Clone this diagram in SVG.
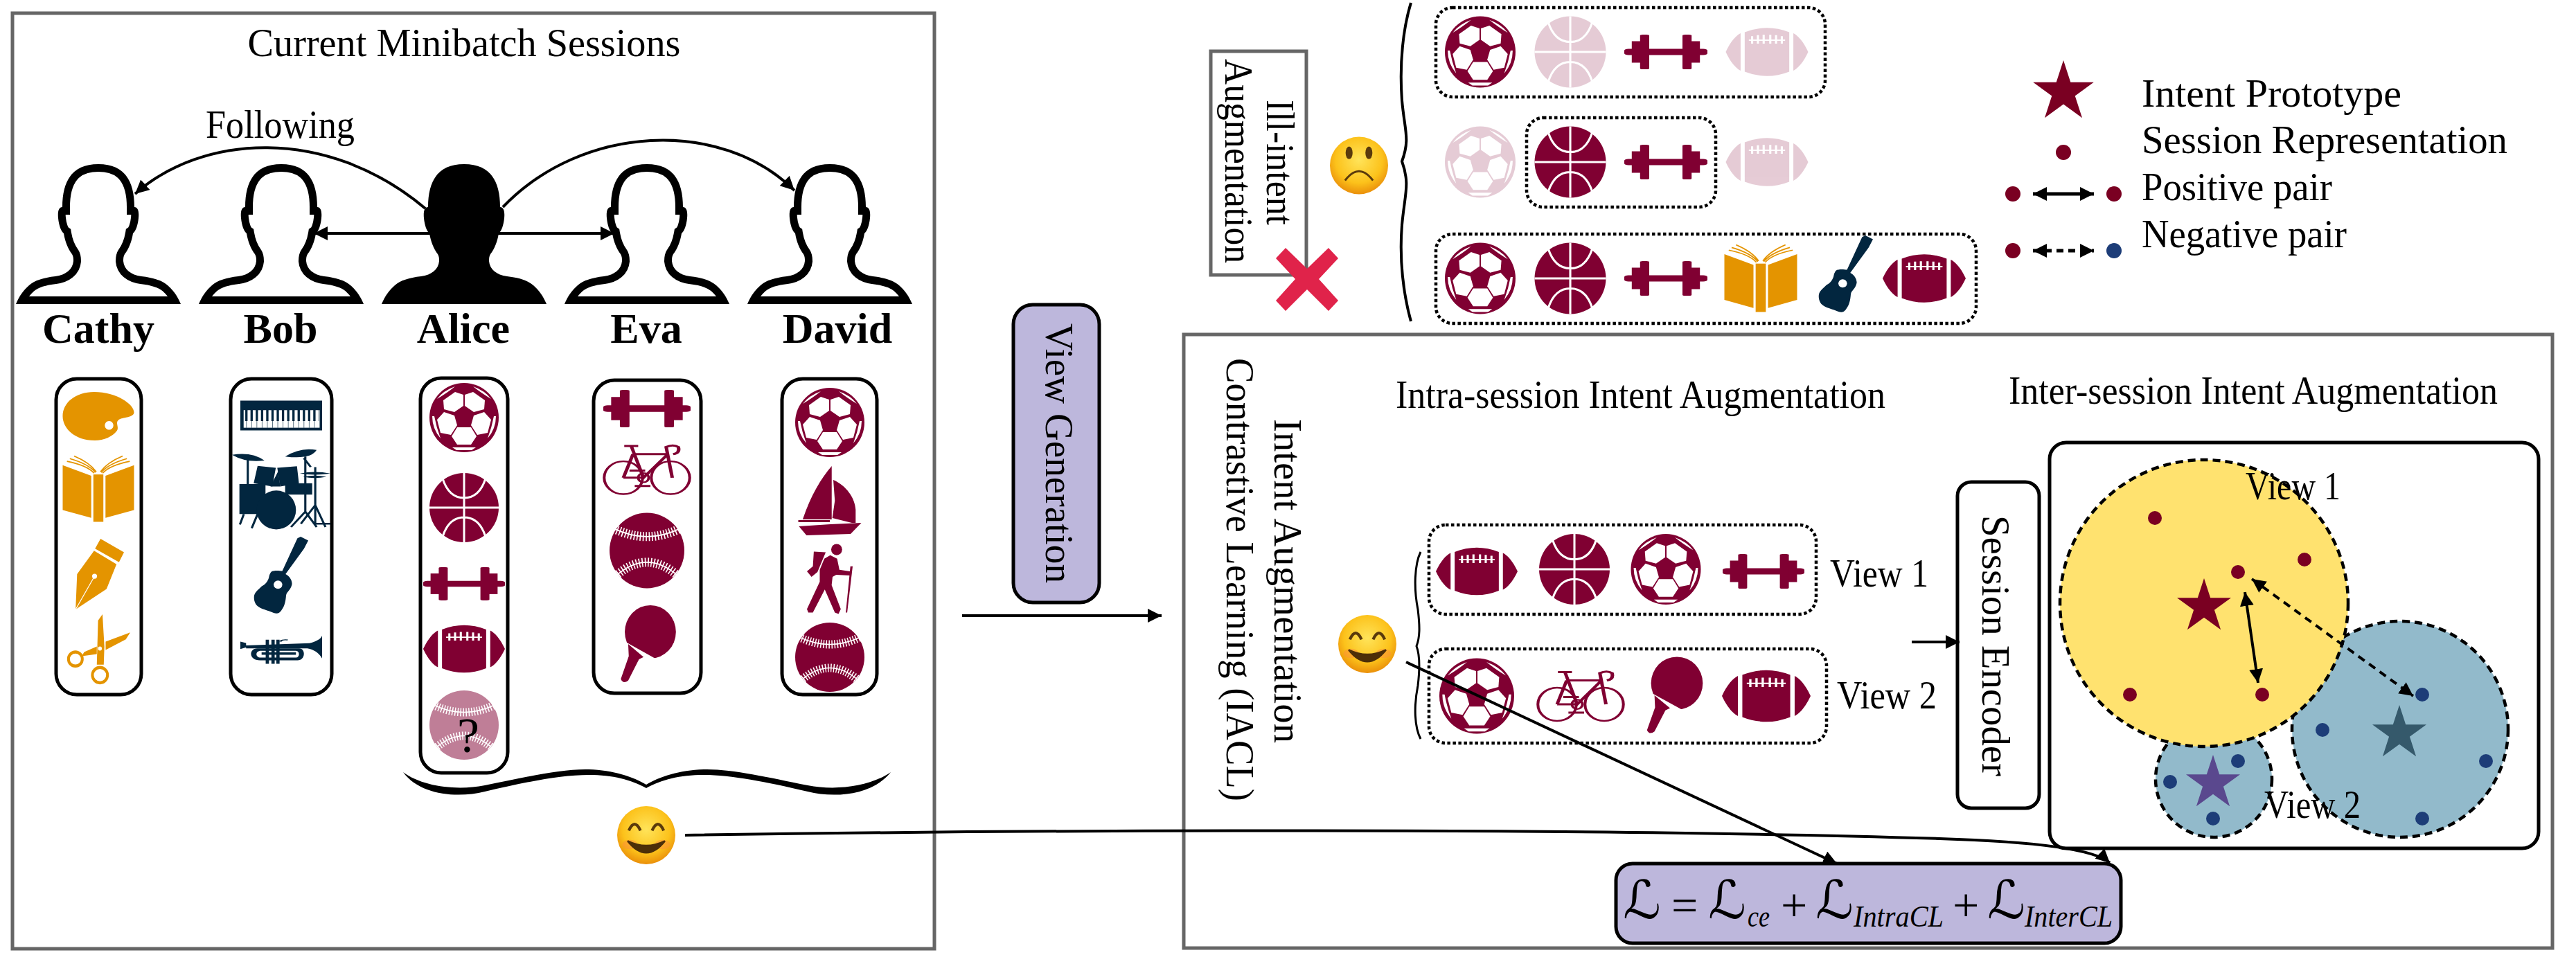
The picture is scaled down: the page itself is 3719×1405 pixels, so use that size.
<svg xmlns="http://www.w3.org/2000/svg" width="3719" height="1405" viewBox="0 0 3719 1405">
<style>
text{font-family:"Liberation Serif","Times New Roman",serif;font-size:56px;fill:#000}
.name{font-weight:bold;font-size:62px;text-anchor:middle}
.sub{font-size:44px;font-style:italic}
.scr{font-family:"DejaVu Sans",sans-serif;font-size:76px}
.op{font-size:68px}
.frame{fill:none;stroke:#666;stroke-width:5}
.col{fill:#fff;stroke:#000;stroke-width:5}
.dot{fill:none;stroke:#000;stroke-width:4.5;stroke-dasharray:4.5 3.5}
.lav{fill:#bdb7dc;stroke:#000;stroke-width:5}
.clu{stroke:#000;stroke-width:4.5;stroke-dasharray:11 7}
.m{fill:#800032}.o{fill:#e49400}.n{fill:#02263f}
.ln{fill:none;stroke:#000;stroke-width:4}
.r{fill:#7a0022}.b{fill:#1d3d78}
.ghost{opacity:.2}
</style>
<defs>
<marker id="ah" markerUnits="userSpaceOnUse" markerWidth="22" markerHeight="22" refX="20" refY="10" orient="auto-start-reverse"><path d="M0,0L20,10L0,20z"/></marker>
<radialGradient id="gold" cx=".5" cy=".4" r=".62"><stop offset="0" stop-color="#ffe45a"/><stop offset=".65" stop-color="#fcc21b"/><stop offset="1" stop-color="#e88a08"/></radialGradient>
<path id="head" d="M0,0C36,0 52,22 52,62C57,62 59,68 58,78C57,88 54,97 50,100C48,112 44,122 38,130C36,133 36,137 36,140C37,152 47,160 62,162C80,164 92,168 100,175C108,182 114,190 119,202L-119,202C-114,190 -108,182 -100,175C-92,168 -80,164 -62,162C-47,160 -37,152 -36,140C-36,137 -36,133 -38,130C-44,122 -48,112 -50,100C-54,97 -57,88 -58,78C-59,68 -57,62 -52,62C-52,22 -36,0 0,0z"/>
<clipPath id="hc"><use href="#head"/></clipPath>
<g id="person"><use href="#head" fill="#fff" stroke="#000" stroke-width="22" clip-path="url(#hc)"/></g>
<g id="soccer"><circle r="50" class="m"/><g fill="#fff"><path d="M-30,-25L-13,-37L-1,-33V-17L-14,-8L-29,-12z"/><path d="M30,-25L13,-37L1,-33V-17L14,-8L29,-12z"/><path d="M-29,-8L-14,-3L-10,11L-19,25L-34,22L-39,3z"/><path d="M29,-8L14,-3L10,11L19,25L34,22L39,3z"/><path d="M-10,14H10L18,27L10,39H-10L-18,27z"/><path d="M-39,-27Q-30,-39 -13,-45Q-24,-36 -39,-27z"/><path d="M39,-27Q30,-39 13,-45Q24,-36 39,-27z"/><path d="M-46,-2Q-46,16 -34,30Q-40,14 -43,-2z"/><path d="M46,-2Q46,16 34,30Q40,14 43,-2z"/><path d="M-17,43H17L11,47H-11z"/></g></g>
<g id="basket"><circle r="50" class="m"/><path d="M0,-50V50M-50,0H50M-31,-42Q-22,-14 0,-14Q22,-14 31,-42M-31,42Q-22,14 0,14Q22,14 31,42" stroke="#fff" stroke-width="3" fill="none"/></g>
<g id="bell" class="m"><rect x="-50" y="-9" width="100" height="18" rx="5"/><rect x="-41" y="-31" width="11" height="62"/><rect x="-31" y="-50" width="11" height="100" rx="3"/><rect x="30" y="-31" width="11" height="62"/><rect x="20" y="-50" width="11" height="100" rx="3"/></g>
<g id="football"><path class="m" d="M-50,0C-44,-22 -37,-34 -32,-38L-32,38C-37,34 -44,22 -50,0zM50,0C44,-22 37,-34 32,-38L32,38C37,34 44,22 50,0zM-27,-40Q0,-58 27,-40V40Q0,58 -27,40z"/><path d="M-22,-24H22M-18,-32V-17M-11,-34V-17M-4,-35V-17M4,-35V-17M11,-34V-17M18,-32V-17" stroke="#fff" stroke-width="2.6" fill="none"/></g>
<g id="baseball"><circle r="50" class="m"/><path d="M-44,-29Q0,-8 44,-29M-42,34Q0,-3 42,34" stroke="#fff" stroke-width="1.6" fill="none"/><path d="M-44,-29Q0,-8 44,-29M-42,34Q0,-3 42,34" stroke="#fff" stroke-width="12" stroke-dasharray="1.5 2.5" fill="none"/></g>
<g id="bike" fill="none" stroke="#800032" stroke-width="3.2"><ellipse cx="-27" cy="16" rx="22" ry="32"/><ellipse cx="27" cy="16" rx="22" ry="32"/><path stroke-width="4" d="M-16,-30H24M-18,-46L-4,16L24,-30M-27,16L-16,-30M-4,16H-27M29,16L22,-44Q30,-50 36,-44Q38,-32 30,-30M-26,-46H-10M-14,32H4M-20,2H-2"/><ellipse cx="-4" cy="16" rx="6" ry="9" stroke-width="3"/></g>
<g id="paddle"><ellipse cx="6" cy="-16" rx="45" ry="35" class="m"/><path d="M-50,-8L22,22L-50,60z" fill="#fff"/><path class="m" d="M-33,0L-6,17L-14,20L-33,48Q-42,53 -46,46L-32,16z"/></g>
<g id="palette" class="o"><path fill-rule="evenodd" d="M-6,-50C26,-50 50,-24 50,-8C50,2 36,2 30,6C22,12 30,22 26,30C20,42 8,50 -5,50C-34,50 -50,24 -50,0C-50,-28 -32,-50 -6,-50zM15,10a6,9 0 1 0 .1,0z"/></g>
<g id="book" class="o"><path d="M-50,-36L-10,-20V44L-50,32zM50,-36L10,-20V44L50,32z"/><rect x="-7" y="-22" width="14" height="72"/><path d="M-44,-42Q-16,-36 -6,-24M-40,-46Q-14,-38 -4,-25M-34,-50Q-12,-40 -3,-26M44,-42Q16,-36 6,-24M40,-46Q14,-38 4,-25M34,-50Q12,-40 3,-26" stroke="#e49400" stroke-width="1.8" fill="none"/></g>
<g id="pen"><path class="o" d="M3,-50L50,-31L40,-17L-8,-36zM-10,-33L35,-14L15,21L-47,50L-44,0z"/><path d="M-47,50L-9,3" stroke="#fff" stroke-width="1.4"/><ellipse cx="-9" cy="3" rx="5" ry="3.6" fill="#fff"/></g>
<g id="scissors"><path class="o" d="M6,-50L9,-4L8,22L-3,22L-1,-41zM50,-24L43,-14L11,1L11,-11zM-3,-4L-23,4L-27,10L-3,7z"/><g fill="none" stroke="#e49400" stroke-width="4.4"><ellipse cx="-37" cy="14" rx="11" ry="10"/><ellipse cx="2" cy="37" rx="12" ry="11"/></g><ellipse cx="2" cy="-1" rx="3" ry="3" fill="#fff"/></g>
<g id="keys" class="n"><rect x="-50" y="-50" width="100" height="100"/><rect x="-46" y="-18" width="93" height="59" fill="#fff"/><path d="M-44,0H46" stroke="#02263f" stroke-width="37" stroke-dasharray="2.8 3.6"/><path d="M-43,29H46" stroke="#02263f" stroke-width="24" stroke-opacity=".65" stroke-dasharray=".8 5.6"/></g>
<g id="drums" class="n"><path d="M-50,-42Q-30,-46 -17,-35Q-36,-32 -50,-42zM4,-40Q20,-52 36,-48Q30,-36 4,-40zM19,-19Q34,-23 50,-19Q34,-16 19,-19zM22,-15Q34,-18 46,-15Q34,-12 22,-15z"/><path d="M-24,-28.5L-5.500,-26L-9,-3L-28,-7zM-4,-26L16,-28L18,-7L-1,-3z"/><rect x="-42.500" y="-6" width="26.500" height="37"/><rect x="4" y="-7" width="27.500" height="14"/><path d="M-11,-3L-3,-22L-1,-3z" fill="#02263f"/><ellipse cx="-5" cy="26" rx="20" ry="24"/><g fill="none" stroke="#02263f" stroke-width="2.200"><path d="M-34,-36V-6M24.500,-40V28L10,47M24.500,28L36,47M23,-38L30,-27M34.600,-27V20L20,43M34.600,20L45,47M34.600,20V43L50,43M-38,31L-42,44M-24,31L-30,48.500"/></g></g>
<g id="guitar" class="n"><path d="M30,-48L36,-50L50,-45L42,-34L8,-1C14,1 20,6 20,12C18,20 10,22 9,27C8,36 6,41 1,46C-4,52 -10,51 -14,50C-24,47 -38,45 -44,41C-50,37 -51,31 -50,27C-48,22 -40,18 -36,15C-28,12 -25,8 -23,4C-21,-3 -18,-5 -14,-5C-8,-6 -2,-5 2,-5z"/><ellipse cx="-6" cy="13" rx="8" ry="5.500" fill="#fff"/></g>
<g id="trumpet" class="n"><path d="M-50,-28L-43,-23V-14.500L34.500,-22.600C42,-28 48,-36 50,-49V31C46,12 40,0 32,-4H-43V-8L-50,-2z"/><path fill-rule="evenodd" d="M-29,-4H22C30,-4 30,38 20,38H-26C-40,38 -40,-4 -29,-4zM-25,4C-32,4 -32,28 -25,28H18C23,28 23,4 18,4z"/><path d="M-24,10H18V18H-24z"/><path d="M-17,-35V50M-10,-35V50M-4,-35V50" stroke="#02263f" stroke-width="4"/><path d="M-1,-28Q0,-36 8,-34" stroke="#02263f" stroke-width="3" fill="none"/></g>
<g id="boat" class="m"><path d="M3,-50V27H-43C-30,-8 -14,-32 3,-50zM5.500,-30C26,-22 40,-4 41,13V32L35,32L4,25L8,0z"/><path d="M-50,28H0V31H-50z"/><path d="M-49,37L1,34L50,32L33,48L-37,50z"/></g>
<g id="hiker" class="m"><ellipse cx="15" cy="-42" rx="12" ry="8"/><path d="M-35,-39L-9,-38L-27,-10L-40,-3L-50,-11L-37,-18z"/><path d="M1,-34L16,-29L21,-13L44,-11V-5L14,-6L6,-3L4,9L24,43L19,50L11,48L-11,15L-37,48L-47,48L-50,43L-22,4V-13L-12,-29z"/><path d="M45,-18H50L38,48H35z"/></g>
<g id="smile"><ellipse rx="50" ry="50" fill="url(#gold)"/><ellipse cx="-28" cy="16" rx="13" ry="8" fill="#fb8f3a" opacity=".5"/><ellipse cx="28" cy="16" rx="13" ry="8" fill="#fb8f3a" opacity=".5"/><path d="M-30,-8Q-20,-30 -10,-8M10,-8Q20,-30 30,-8" fill="none" stroke="#5a3a0c" stroke-width="5"/><path d="M-32,10Q0,50 32,10Q0,26 -32,10z" fill="#4d2f08" stroke="#4d2f08" stroke-width="3"/></g>
<g id="sad"><ellipse rx="50" ry="50" fill="url(#gold)"/><ellipse cx="-17" cy="-22" rx="6" ry="11" fill="#5a3a0c"/><ellipse cx="17" cy="-22" rx="6" ry="11" fill="#5a3a0c"/><path d="M-24,26Q0,-6 24,26" fill="none" stroke="#5a3a0c" stroke-width="3.500"/></g>
<polygon id="star" points="0,-50 11.200,-15.500 47.600,-15.500 18.200,5.900 29.400,40.500 0,19.100 -29.400,40.500 -18.200,5.900 -47.600,-15.500 -11.200,-15.500"/>
</defs>
<rect width="3719" height="1405" fill="#fff"/>

<g id="minibatch-frame"><rect class="frame" x="18" y="19" width="1331" height="1351"/><text x="670" y="81" text-anchor="middle" textLength="625" lengthAdjust="spacingAndGlyphs">Current Minibatch Sessions</text><text x="297" y="199" textLength="215" lengthAdjust="spacingAndGlyphs">Following</text></g>

<g id="user-cathy"><use href="#person" x="142" y="237"/><text class="name" x="142" y="495">Cathy</text><rect class="col" x="81" y="547" width="123" height="456" rx="30"/>
<use href="#palette" transform="translate(142,601) scale(1.03,.7)"/><use href="#book" transform="translate(142,706) scale(1.03,.95)"/><use href="#pen" transform="translate(143,829) scale(.72,1.02)"/><use href="#scissors" transform="translate(142.500,937.500) scale(.91,1.01)"/></g>
<g id="user-bob"><use href="#person" x="406" y="237"/><text class="name" x="405" y="495">Bob</text><rect class="col" x="333" y="547" width="146" height="456" rx="30"/>
<use href="#keys" transform="translate(406,600) scale(1.18,.43)"/><use href="#drums" transform="translate(406,706) scale(1.42,1.17)"/><use href="#guitar" transform="translate(406,830) scale(.78,1.1)"/><use href="#trumpet" transform="translate(406,938) scale(1.18,.41)"/></g>
<g id="user-alice"><use href="#head" x="670" y="237"/><text class="name" x="669" y="495">Alice</text><rect class="col" x="607" y="546" width="126" height="570" rx="30"/>
<use href="#soccer" transform="translate(670,603)"/><use href="#basket" transform="translate(670,733)"/><use href="#bell" transform="translate(670,843) scale(1.18,.48)"/><use href="#football" transform="translate(670,937) scale(1.18,.7)"/><use href="#baseball" transform="translate(670,1047)" opacity=".5"/><text x="676" y="1086" text-anchor="middle" style="font-size:72px">?</text></g>
<g id="user-eva"><use href="#person" x="934" y="237"/><text class="name" x="933" y="495">Eva</text><rect class="col" x="857" y="549" width="155" height="452" rx="30"/>
<use href="#bell" transform="translate(934,590) scale(1.26,.54)"/><use href="#bike" transform="translate(934,678) scale(1.26,.74)"/><use href="#baseball" transform="translate(934,795) scale(1.08,1.09)"/><use href="#paddle" transform="translate(934,930) scale(.82,1.1)"/></g>
<g id="user-david"><use href="#person" x="1198" y="237"/><text class="name" x="1209" y="495">David</text><rect class="col" x="1129" y="547" width="137" height="456" rx="30"/>
<use href="#soccer" transform="translate(1198,610)"/><use href="#boat" transform="translate(1198,723) scale(.91,1)"/><use href="#hiker" transform="translate(1198,836) scale(.66,1.01)"/><use href="#baseball" transform="translate(1198,949)"/></g>
<g id="brace-alice-david"><path d="M582,1115C610,1136 660,1142 700,1134C760,1122 810,1110 850,1111C885,1112 915,1122 933,1133C951,1122 981,1112 1016,1111C1056,1110 1106,1122 1166,1134C1206,1142 1256,1136 1286,1115C1260,1148 1206,1153 1166,1143C1106,1129 1056,1119 1016,1119C981,1119 955,1126 933,1138C911,1126 885,1119 850,1119C810,1119 760,1129 700,1143C660,1153 606,1148 582,1115z"/></g>
<g id="smiley-main"><use href="#smile" transform="translate(933,1206) scale(.84)"/></g>

<g id="view-generation"><rect class="lav" x="1463" y="440" width="124" height="430" rx="28"/><text transform="translate(1510,467) rotate(90)" textLength="375" lengthAdjust="spacingAndGlyphs">View Generation</text></g>

<g id="ill-intent"><rect class="frame" x="1748" y="74" width="138" height="323"/><text transform="translate(1829,144) rotate(90)" textLength="181" lengthAdjust="spacingAndGlyphs">Ill-intent</text><text transform="translate(1769,85) rotate(90)" textLength="295" lengthAdjust="spacingAndGlyphs">Augmentation</text>
<path d="M1856,358L1887,388L1918,358L1932,373L1904,403L1932,434L1918,449L1887,418L1856,449L1842,434L1870,403L1842,373z" fill="#e0234a"/></g>
<g id="smiley-sad"><use href="#sad" transform="translate(1962,239) scale(.84,.83)"/></g>
<g id="brace-ill"><path d="M2037,4C2026,40 2020,90 2024,145C2028,190 2036,200 2024,233C2036,266 2028,280 2024,325C2020,375 2026,425 2037,464" fill="none" stroke="#000" stroke-width="4"/></g>
<g id="ill-row-1"><rect class="dot" x="2073" y="11" width="562" height="129" rx="24"/><use href="#soccer" transform="translate(2137,75) scale(1.02,1.03)"/><use href="#basket" class="ghost" transform="translate(2267,75) scale(1.03)"/><use href="#bell" transform="translate(2405,75) scale(1.2,.5)"/><use href="#football" class="ghost" transform="translate(2551,75) scale(1.19,.71)"/></g>
<g id="ill-row-2"><rect class="dot" x="2204" y="170" width="273" height="129" rx="24"/><use href="#soccer" class="ghost" transform="translate(2137,234) scale(1.02,1.03)"/><use href="#basket" transform="translate(2267,234) scale(1.03)"/><use href="#bell" transform="translate(2405,234) scale(1.2,.5)"/><use href="#football" class="ghost" transform="translate(2551,234) scale(1.19,.71)"/></g>
<g id="ill-row-3"><rect class="dot" x="2073" y="338" width="780" height="129" rx="24"/><use href="#soccer" transform="translate(2137,402) scale(1.02,1.03)"/><use href="#basket" transform="translate(2267,402) scale(1.03)"/><use href="#bell" transform="translate(2405,402) scale(1.2,.5)"/><use href="#book" transform="translate(2542,402) scale(1.05,.97)"/><use href="#guitar" transform="translate(2665,395) scale(.78,1.1)"/><use href="#football" transform="translate(2778,402) scale(1.2,.71)"/></g>

<g id="legend"><use class="r" href="#star" transform="translate(2979,133) scale(.92)"/><text x="3092" y="154" textLength="375" lengthAdjust="spacingAndGlyphs">Intent Prototype</text><circle class="r" cx="2979" cy="220" r="11"/><text x="3092" y="221" textLength="528" lengthAdjust="spacingAndGlyphs">Session Representation</text><circle class="r" cx="2906" cy="280" r="11"/><circle class="r" cx="3052" cy="280" r="11"/><text x="3092" y="289" textLength="275" lengthAdjust="spacingAndGlyphs">Positive pair</text><path d="M2935,280H3023" stroke="#000" stroke-width="5" marker-start="url(#ah)" marker-end="url(#ah)"/><circle class="r" cx="2906" cy="362" r="11"/><circle class="b" cx="3052" cy="362" r="11"/><text x="3092" y="357" textLength="296" lengthAdjust="spacingAndGlyphs">Negative pair</text><path d="M2935,362H3023" stroke="#000" stroke-width="5" stroke-dasharray="10 7" marker-start="url(#ah)" marker-end="url(#ah)"/></g>

<g id="iacl-frame"><rect class="frame" x="1709" y="483" width="1976" height="886"/><text transform="translate(1840,605) rotate(90)" textLength="468" lengthAdjust="spacingAndGlyphs">Intent Augmentation</text><text transform="translate(1771,517) rotate(90)" textLength="640" lengthAdjust="spacingAndGlyphs">Contrastive Learning (IACL)</text><text x="2015" y="589" textLength="707" lengthAdjust="spacingAndGlyphs">Intra-session Intent Augmentation</text><text x="2900" y="583" textLength="706" lengthAdjust="spacingAndGlyphs">Inter-session Intent Augmentation</text></g>
<g id="smiley-intra"><use href="#smile" transform="translate(1974,930) scale(.84)"/></g>
<g id="brace-intra"><path d="M2051,797C2042,815 2041,850 2047,880C2050,905 2050,920 2045,933C2050,946 2050,965 2047,990C2041,1020 2042,1050 2051,1067" fill="none" stroke="#000" stroke-width="3"/></g>
<g id="view-1"><rect class="dot" x="2063" y="758" width="559" height="129" rx="24"/><use href="#football" transform="translate(2132,825) scale(1.18,.7)"/><use href="#basket" transform="translate(2273,822) scale(1.02)"/><use href="#soccer" transform="translate(2405,822) scale(1.01,1.02)"/><use href="#bell" transform="translate(2546,825) scale(1.18,.5)"/><text x="2642" y="847" textLength="142" lengthAdjust="spacingAndGlyphs">View 1</text></g>
<g id="view-2"><rect class="dot" x="2063" y="937" width="574" height="136" rx="24"/><use href="#soccer" transform="translate(2132,1005) scale(1.08,1.09)"/><use href="#bike" transform="translate(2282,1005) scale(1.26,.75)"/><use href="#paddle" transform="translate(2416,1004) scale(.83,1.09)"/><use href="#football" transform="translate(2550,1005) scale(1.28,.76)"/><text x="2652" y="1023" textLength="144" lengthAdjust="spacingAndGlyphs">View 2</text></g>
<g id="session-encoder"><rect class="col" x="2826" y="696" width="118" height="471" rx="20"/><text transform="translate(2862,744) rotate(90)" textLength="377" lengthAdjust="spacingAndGlyphs">Session Encoder</text></g>
<g id="inter-session"><rect class="col" x="2959" y="639" width="706" height="586" rx="24"/>
<ellipse class="clu" cx="3465" cy="1053" rx="156" ry="156" fill="#92bacb"/><ellipse class="clu" cx="3196" cy="1125" rx="84" ry="84" fill="#92bacb"/><ellipse class="clu" cx="3182" cy="871" rx="208" ry="207" fill="#ffe26f"/>
<use class="r" href="#star" transform="translate(3182,876) scale(.82)"/><use href="#star" fill="#35596b" transform="translate(3464,1059) scale(.82)"/><use href="#star" fill="#5a488e" transform="translate(3195,1131) scale(.82)"/>
<g class="r"><circle cx="3111" cy="748" r="10"/><circle cx="3327" cy="808" r="10"/><circle cx="3231" cy="826" r="10"/><circle cx="3075" cy="1003" r="10"/><circle cx="3266" cy="1003" r="10"/></g>
<g class="b"><circle cx="3497" cy="1003" r="10"/><circle cx="3353" cy="1054" r="10"/><circle cx="3589" cy="1099" r="10"/><circle cx="3497" cy="1182" r="10"/><circle cx="3231" cy="1099" r="10"/><circle cx="3133" cy="1129" r="10"/><circle cx="3195" cy="1182" r="10"/></g>
<text x="3242" y="721" textLength="137" lengthAdjust="spacingAndGlyphs">View 1</text><text x="3269" y="1181" textLength="139" lengthAdjust="spacingAndGlyphs">View 2</text></g>
<g id="loss"><rect class="lav" x="2333" y="1247" width="729" height="115" rx="24"/>
<text class="scr" x="2343" y="1326">ℒ</text><text class="op" x="2413" y="1330">=</text><text class="scr" x="2466" y="1326">ℒ</text><text class="sub" x="2523" y="1338" textLength="32" lengthAdjust="spacingAndGlyphs">ce</text><text class="op" x="2571" y="1330">+</text><text class="scr" x="2621" y="1326">ℒ</text><text class="sub" x="2676" y="1338" textLength="130" lengthAdjust="spacingAndGlyphs">IntraCL</text><text class="op" x="2819" y="1330">+</text><text class="scr" x="2869" y="1326">ℒ</text><text class="sub" x="2923" y="1338" textLength="127" lengthAdjust="spacingAndGlyphs">InterCL</text></g>

<g id="connectors">
<path class="ln" d="M614,301C470,180 290,195 195,280" marker-end="url(#ah)"/>
<path class="ln" d="M726,299C840,180 1040,170 1147,275" marker-end="url(#ah)"/>
<path class="ln" d="M623,337H453" marker-end="url(#ah)"/>
<path class="ln" d="M717,337H887" marker-end="url(#ah)"/>
<path class="ln" d="M1389,889H1677" marker-end="url(#ah)"/>
<path class="ln" d="M2760,927H2829" marker-end="url(#ah)"/>
<path class="ln" d="M989,1206C1500,1198 2300,1195 2800,1211C2900,1214 3020,1222 3046,1246" marker-end="url(#ah)"/>
<path class="ln" d="M2030,956L2652,1247" marker-end="url(#ah)"/>
<path class="ln" stroke-dasharray="11 8" d="M3251,836L3484,1005" marker-start="url(#ah)" marker-end="url(#ah)"/>
<path class="ln" d="M3241,855L3260,986" marker-start="url(#ah)" marker-end="url(#ah)"/>
</g>
</svg>
